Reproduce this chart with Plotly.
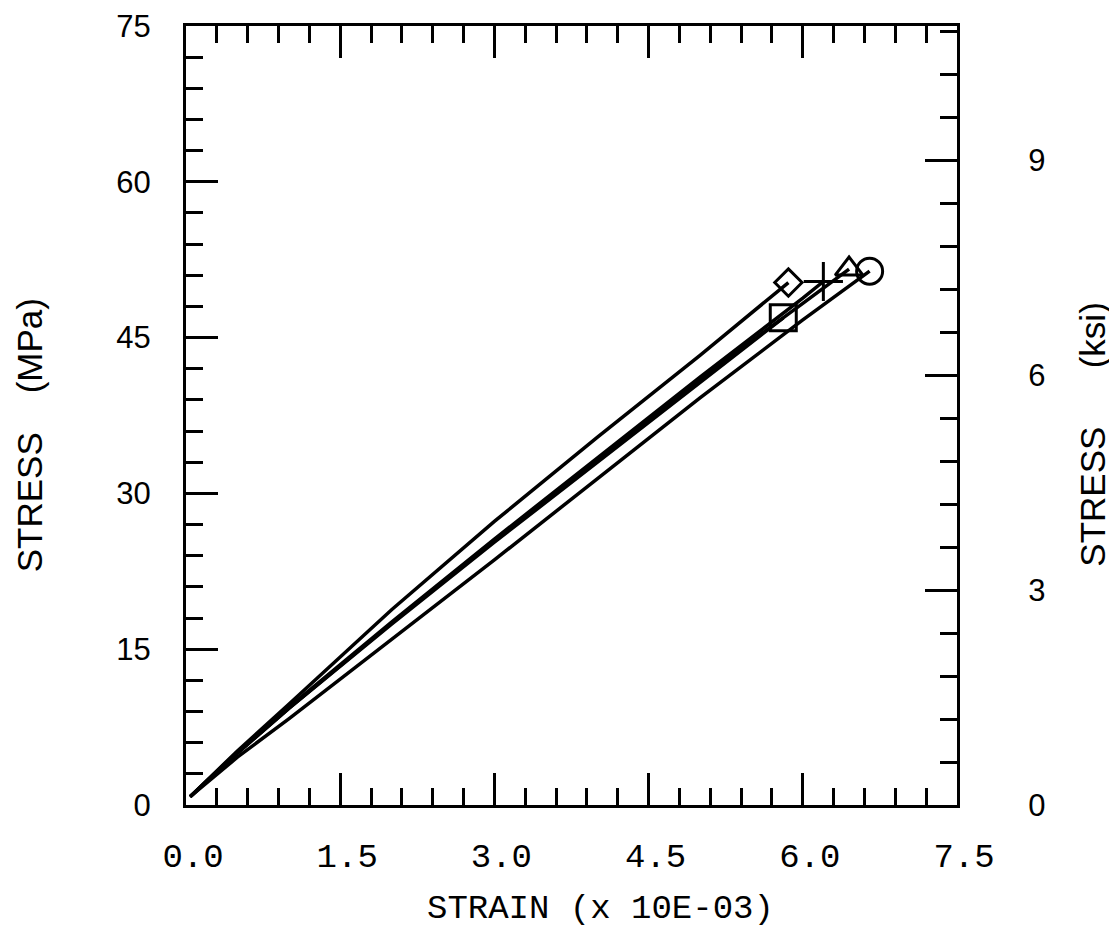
import plotly.graph_objects as go

# ---- data (strain in 1e-3, stress in MPa) ----
specimens = ["diamond", "square", "plus", "triangle", "circle"]

strain_diamond = [0.04, 0.5, 1.0, 2.0, 3.0, 4.0, 5.0, 5.86]
stress_diamond = [0.8, 5.2, 9.7, 18.8, 27.3, 35.4, 43.3, 50.3]

strain_square = [0.04, 0.5, 1.0, 2.0, 3.0, 4.0, 5.0, 5.81]
stress_square = [0.8, 5.0, 9.3, 17.4, 25.3, 33.0, 40.6, 46.9]

strain_plus = [0.04, 0.5, 1.0, 2.0, 3.0, 4.0, 5.0, 6.0, 6.2]
stress_plus = [0.8, 5.1, 9.4, 17.6, 25.6, 33.4, 41.2, 48.8, 50.4]

strain_triangle = [0.04, 0.5, 1.0, 2.0, 3.0, 4.0, 5.0, 6.0, 6.45]
stress_triangle = [0.8, 5.0, 9.3, 17.5, 25.5, 33.3, 41.0, 48.3, 51.6]

strain_circle = [0.04, 0.5, 1.0, 2.0, 3.0, 4.0, 5.0, 6.0, 6.65]
stress_circle = [0.8, 4.6, 8.3, 15.9, 23.6, 31.4, 39.2, 46.7, 51.4]

x_ticks = [0.0, 1.5, 3.0, 4.5, 6.0, 7.5]
y_ticks_mpa = [0, 15, 30, 45, 60, 75]
y_ticks_ksi = [0, 3, 6, 9]
MPA_PER_KSI = 6.894757

series = [
    (strain_diamond, stress_diamond, "diamond-open", 21),
    (strain_square, stress_square, "square-open", 26),
    (strain_plus, stress_plus, "cross-thin-open", 28),
    (strain_triangle, stress_triangle, "triangle-up-open", 24),
    (strain_circle, stress_circle, "circle-open", 26),
]

fig = go.Figure()
for xs, ys, sym, sz in series:
    fig.add_trace(go.Scatter(x=xs, y=ys, mode="lines",
                             line=dict(color="black", width=3.5),
                             showlegend=False, hoverinfo="skip"))
    fig.add_trace(go.Scatter(x=[xs[-1]], y=[ys[-1]], mode="markers",
                             marker=dict(symbol=sym, size=sz, color="black",
                                         line=dict(color="black", width=3)),
                             showlegend=False, hoverinfo="skip"))

# dummy trace so the ksi axis is drawn
fig.add_trace(go.Scatter(x=[None], y=[None], yaxis="y2", showlegend=False))

NB = "\u00a0"

fig.update_layout(
    width=1109, height=923,
    margin=dict(l=178, r=160, t=18, b=126, autoexpand=False),
    paper_bgcolor="white", plot_bgcolor="white",
    xaxis=dict(
        range=[0, 7.5], tickvals=x_ticks, tickformat=".1f", automargin=False,
        ticks="inside", ticklen=32, tickwidth=3, tickcolor="black",
        minor=dict(ticks="inside", ticklen=17, tickwidth=3, dtick=0.3,
                   tickcolor="black", showgrid=False),
        showline=True, linewidth=3, linecolor="black", mirror="ticks",
        showgrid=False, zeroline=False,
        tickfont=dict(family="Liberation Mono", size=34, color="black"),
        ticklabelstandoff=18, ticklabelshift=7,
    ),
    yaxis=dict(
        range=[0, 75], tickvals=y_ticks_mpa, automargin=False,
        ticks="inside", ticklen=32, tickwidth=3, tickcolor="black",
        minor=dict(ticks="inside", ticklen=17, tickwidth=3, dtick=3,
                   tickcolor="black", showgrid=False),
        showline=True, linewidth=3, linecolor="black",
        showgrid=False, zeroline=False,
        tickfont=dict(family="Liberation Sans", size=31, color="black"),
        ticklabelstandoff=26,
    ),
    yaxis2=dict(
        range=[0, 75 / MPA_PER_KSI], tickvals=y_ticks_ksi, automargin=False,
        overlaying="y", side="right", anchor="x",
        ticks="inside", ticklen=32, tickwidth=3, tickcolor="black",
        minor=dict(ticks="inside", ticklen=17, tickwidth=3, dtick=0.6,
                   tickcolor="black", showgrid=False),
        showline=True, linewidth=3, linecolor="black",
        showgrid=False, zeroline=False,
        tickfont=dict(family="Liberation Sans", size=31, color="black"),
        ticklabelstandoff=62,
    ),
    annotations=[
        dict(text="STRAIN (x 10E-03)", xref="paper", yref="paper",
             x=0.537, y=-0.1335, xanchor="center", yanchor="middle",
             showarrow=False,
             font=dict(family="Liberation Mono", size=34, color="black")),
        dict(text="STRESS" + NB * 4 + "(MPa)", xref="paper", yref="paper",
             x=-0.202, y=0.475, xanchor="center", yanchor="middle",
             textangle=-90, showarrow=False,
             font=dict(family="Liberation Sans", size=35, color="black")),
        dict(text="STRESS" + NB * 6 + "(ksi)", xref="paper", yref="paper",
             x=1.176, y=0.475, xanchor="center", yanchor="middle",
             textangle=-90, showarrow=False,
             font=dict(family="Liberation Sans", size=35, color="black")),
    ],
)

fig.write_html("out.html")
